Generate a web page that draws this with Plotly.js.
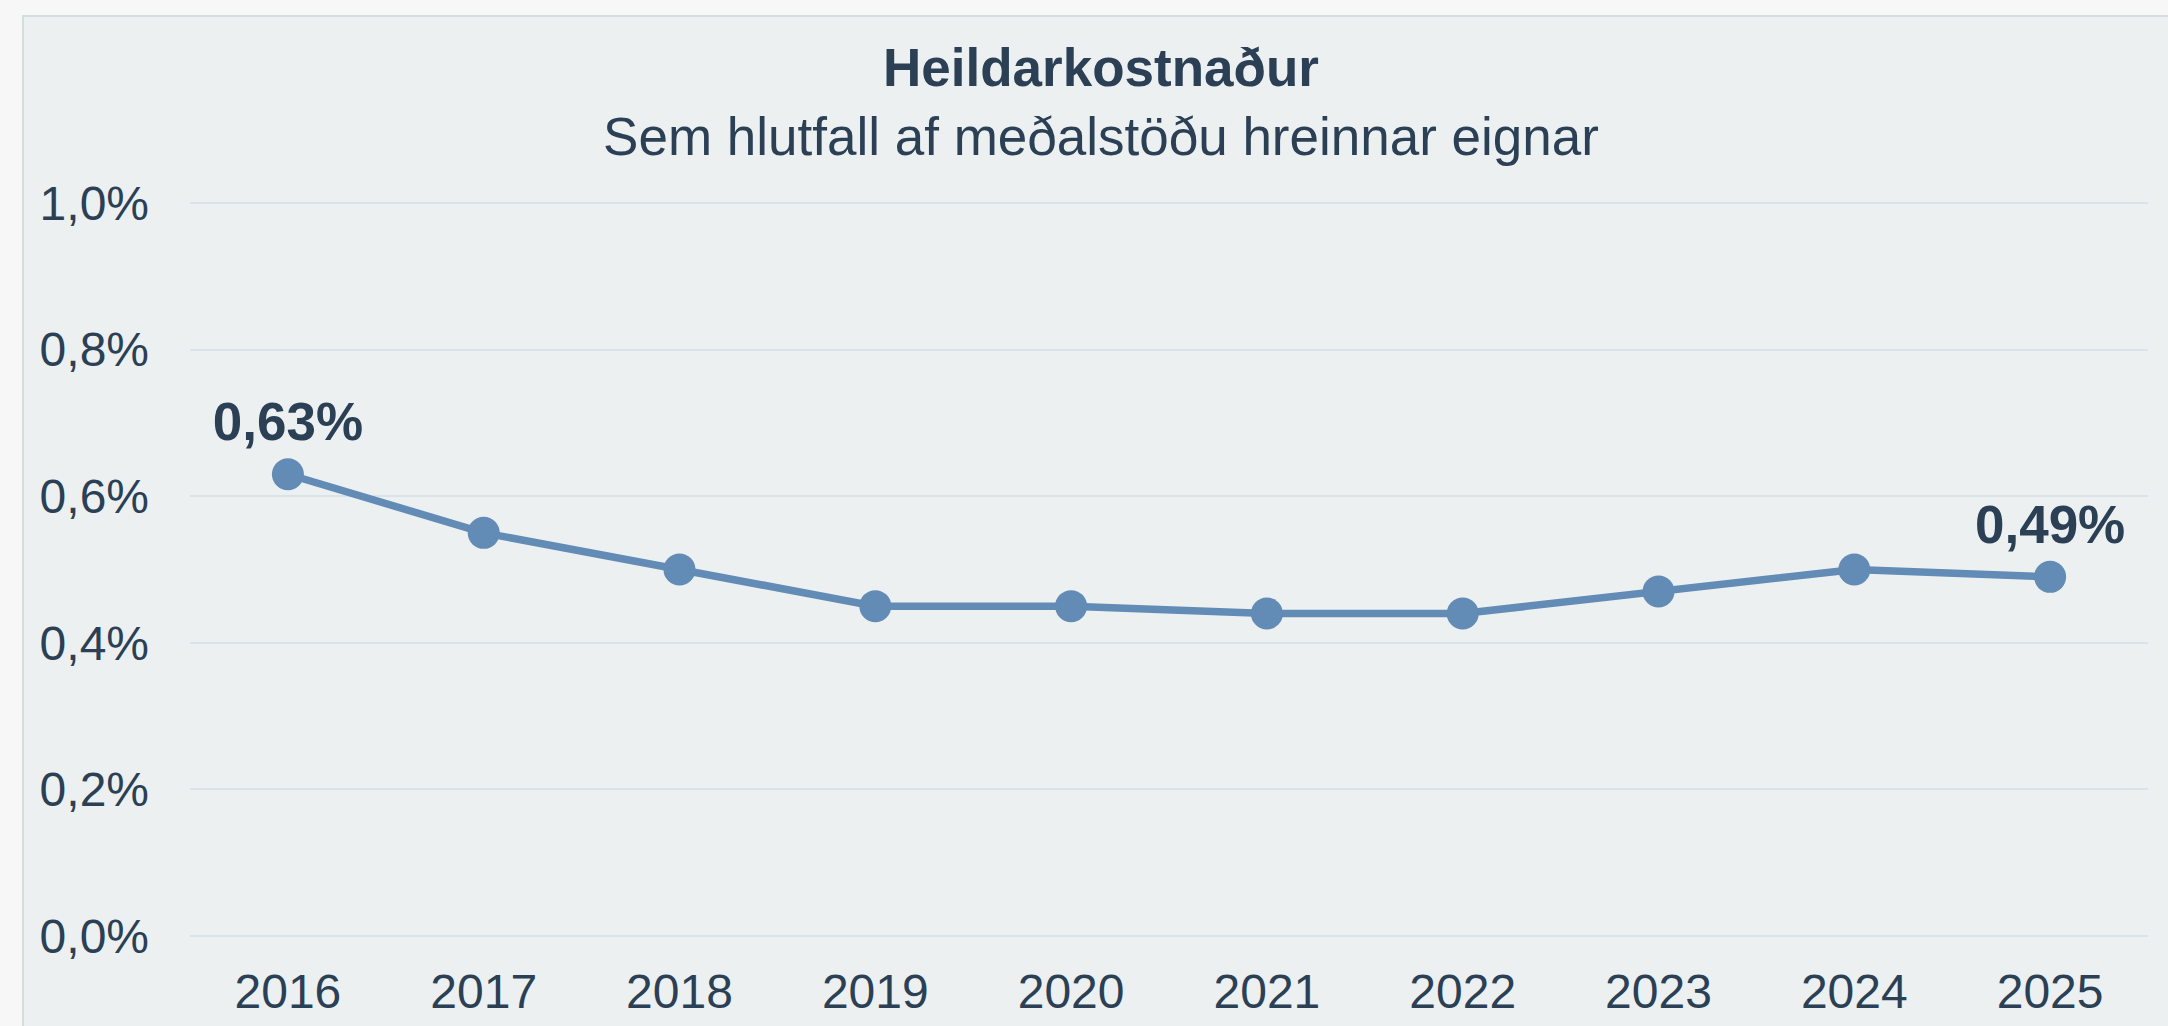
<!DOCTYPE html>
<html>
<head>
<meta charset="utf-8">
<script src="https://cdn.plot.ly/plotly-3.0.1.min.js"></script>
<style>
  html, body { margin: 0; padding: 0; background: #f7f7f7; overflow: hidden; }
  #frame { position: absolute; left: 22px; top: 15px; width: 2200px; height: 1100px;
           background: #ecf0f1; border: 2px solid #d3dfdf; box-sizing: border-box; }
  #chart { position: absolute; left: 0; top: 0; width: 2168px; height: 1026px; }
</style>
</head>
<body>
<div id="frame"></div>
<div id="chart"></div>
<script>
const years = ['2016','2017','2018','2019','2020','2021','2022','2023','2024','2025'];
const costPct = [0.63, 0.55, 0.50, 0.45, 0.45, 0.44, 0.44, 0.47, 0.50, 0.49];
const yTicks = [0, 0.2, 0.4, 0.6, 0.8, 1.0];
const yTickText = ['0,0%', '0,2%', '0,4%', '0,6%', '0,8%', '1,0%'];
const titleMain = 'Heildarkostnaður';
const titleSub = 'Sem hlutfall af meðalstöðu hreinnar eignar';

const textColor = '#2b3f55';
const lineColor = '#628bb5';
const fontFam = '"Liberation Sans", Arial, Helvetica, sans-serif';

const labelTemplates = costPct.map((v, i) => (i === 0 || i === costPct.length - 1) ? '%{y:.2f}%' : '');

const trace = {
  type: 'scatter',
  mode: 'lines+markers+text',
  x: years,
  y: costPct,
  line: { color: lineColor, width: 7.5 },
  marker: { color: lineColor, size: 32 },
  texttemplate: labelTemplates,
  textposition: 'top center',
  textfont: { family: fontFam, size: 53, color: textColor, weight: 'bold' },
  cliponaxis: false,
  hoverinfo: 'skip'
};

const layout = {
  width: 2168,
  height: 1026,
  paper_bgcolor: 'rgba(0,0,0,0)',
  plot_bgcolor: 'rgba(0,0,0,0)',
  separators: ',.',
  margin: { l: 190, r: 20, t: 202, b: 89 },
  showlegend: false,
  font: { family: fontFam, color: textColor },
  title: {
    text: '<b>' + titleMain + '</b><br>' + titleSub,
    font: { family: fontFam, size: 53, color: textColor },
    x: 1101 / 2168,
    xanchor: 'center',
    xref: 'container',
    y: 1 - 86 / 1026,
    yref: 'container',
    yanchor: 'top'
  },
  xaxis: {
    type: 'category',
    range: [-0.5, years.length - 0.5],
    showgrid: false,
    zeroline: false,
    showline: false,
    ticks: '',
    tickfont: { family: fontFam, size: 48, color: textColor },
    ticklabelstandoff: 22
  },
  yaxis: {
    range: [-0.0015, 1.0015],
    tickmode: 'array',
    tickvals: yTicks,
    ticktext: yTickText,
    showgrid: true,
    gridcolor: '#d9e3ec',
    gridwidth: 2,
    zeroline: false,
    showline: false,
    ticks: '',
    tickfont: { family: fontFam, size: 48, color: textColor },
    ticklabelstandoff: 40
  }
};

Plotly.newPlot('chart', [trace], layout, { staticPlot: true, displayModeBar: false });
</script>
</body>
</html>
